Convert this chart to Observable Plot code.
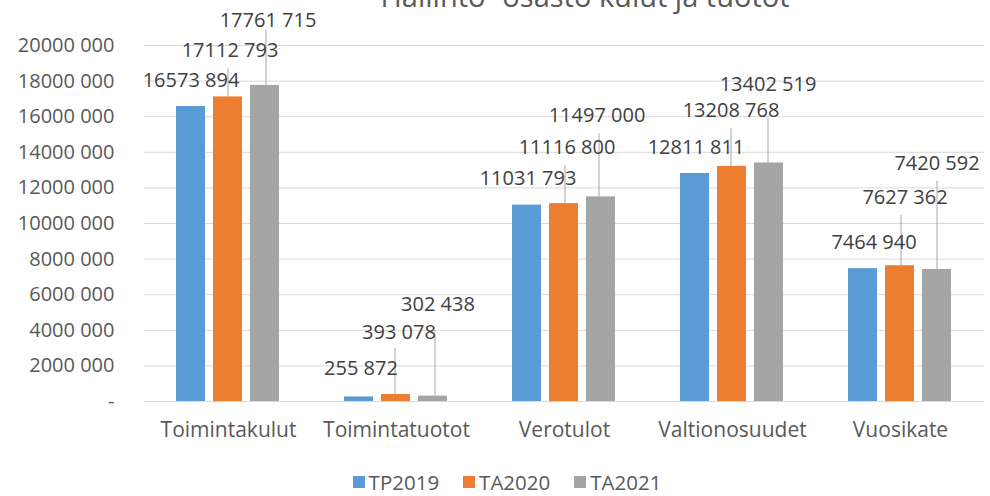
<!DOCTYPE html>
<html><head><meta charset="utf-8">
<script src="https://cdn.jsdelivr.net/npm/d3@7"></script>
<script src="https://cdn.jsdelivr.net/npm/@observablehq/plot@0.6"></script>
<style>
body{margin:0;background:#fff;overflow:hidden;font-family:"Open Sans",sans-serif;width:990px;height:496px;position:relative}
#title{position:absolute;top:-19px;left:585px;transform:translateX(-50%);font-size:29px;line-height:1;color:#595959;white-space:nowrap}
#chart{position:absolute;top:0;left:0}
#legend{position:absolute;top:468px;left:0;width:990px;display:flex;justify-content:center;transform:translateX(12px);font-size:20.5px;color:#595959;line-height:normal}
.item{display:flex;align-items:center;margin:0 12px}
.sw{width:12px;height:12px;margin-right:4px}
</style></head>
<body>
<div id="title">Hallinto- osasto kulut ja tuotot</div>
<div id="chart"></div>
<div id="legend"></div>
<script>
const categories = ["Toimintakulut","Toimintatuotot","Verotulot","Valtionosuudet","Vuosikate"];
const seriesNames = ["TP2019","TA2020","TA2021"];
const tp2019 = [16573894, 255872, 11031793, 12811811, 7464940];
const ta2020 = [17112793, 393078, 11116800, 13208768, 7627362];
const ta2021 = [17761715, 302438, 11497000, 13402519, 7420592];
const yTicks = [0,2000000,4000000,6000000,8000000,10000000,12000000,14000000,16000000,18000000,20000000];
const colors = ["#5b9bd5","#ed7d31","#a5a5a5"];

// label layout (pixel offsets from bar top), per category x series
const labelDx = [[0,2,3],[2,3,5],[1,3,-4],[1,-1,-1],[11,5,0]];
const labelDy = [[-26,-46,-65],[-28,-62,-92],[-27,-56,-81],[-26,-56,-78],[-26,-68,-106]];
const leaderTop = [[null,-28,-55],[null,-46,-65],[null,-38,-63],[null,-38,-45],[null,-50,-88]];
const leaderDx = [[0,0,1],[0,-1,2],[0,1,-2],[0,-1,-1],[0,1,0]];

const W = 990, H = 452, mTop = 45, mBottom = 51, mLeft = 142, mRight = 4;
const yMax = 20000000;
const upp = yMax / (H - mTop - mBottom);

const seriesValues = [tp2019, ta2020, ta2021];
const rows = [];
categories.forEach((c, i) => seriesValues.forEach((vals, j) => rows.push({category: c, series: seriesNames[j], value: vals[i], ci: i, sj: j})));

function fmt(v) {
  if (v === 0) return "-";
  if (v < 1000) return String(v);
  return Math.floor(v / 1000) + " " + String(v % 1000).padStart(3, "0");
}

const labelMarks = [];
rows.forEach(r => {
  const lt = leaderTop[r.ci][r.sj];
  if (lt !== null) {
    labelMarks.push(Plot.ruleX([r], {fx: "category", x: "series", y1: d => d.value, y2: d => d.value - lt * upp,
      stroke: "#a6a6a6", strokeWidth: 1, dx: leaderDx[r.ci][r.sj]}));
  }
});
rows.forEach(r => {
  labelMarks.push(Plot.text([r], {fx: "category", x: "series", y: "value", text: d => fmt(d.value),
    dx: labelDx[r.ci][r.sj], dy: labelDy[r.ci][r.sj], fill: "#404040", fontSize: 20}));
});

const chart = Plot.plot({
  width: W, height: H,
  marginTop: mTop, marginBottom: mBottom, marginLeft: mLeft, marginRight: mRight,
  style: {fontFamily: "Open Sans, sans-serif", fontSize: "20px", background: "transparent"},
  fx: {domain: categories, padding: 0, label: null},
  x: {domain: seriesNames, paddingInner: 0.21, paddingOuter: 0.86, axis: null},
  y: {domain: [0, yMax], label: null},
  color: {domain: seriesNames, range: colors},
  marks: [
    Plot.ruleY(yTicks, {stroke: "#d9d9d9", strokeWidth: 1}),
    Plot.barY(rows, {fx: "category", x: "series", y: "value", fill: "series"}),
    ...labelMarks,
    Plot.axisY({ticks: yTicks, tickFormat: fmt, tickSize: 0, tickPadding: 30, color: "#595959", fontSize: 20, label: null}),
    Plot.axisFx({anchor: "bottom", tickSize: 0, tickPadding: 21, color: "#595959", fontSize: 21, label: null})
  ]
});
document.getElementById("chart").appendChild(chart);

const legend = document.getElementById("legend");
seriesNames.forEach((s, i) => {
  const it = document.createElement("div"); it.className = "item";
  const sw = document.createElement("div"); sw.className = "sw"; sw.style.background = colors[i];
  const t = document.createElement("span"); t.textContent = s;
  it.appendChild(sw); it.appendChild(t); legend.appendChild(it);
});
</script>
</body></html>
